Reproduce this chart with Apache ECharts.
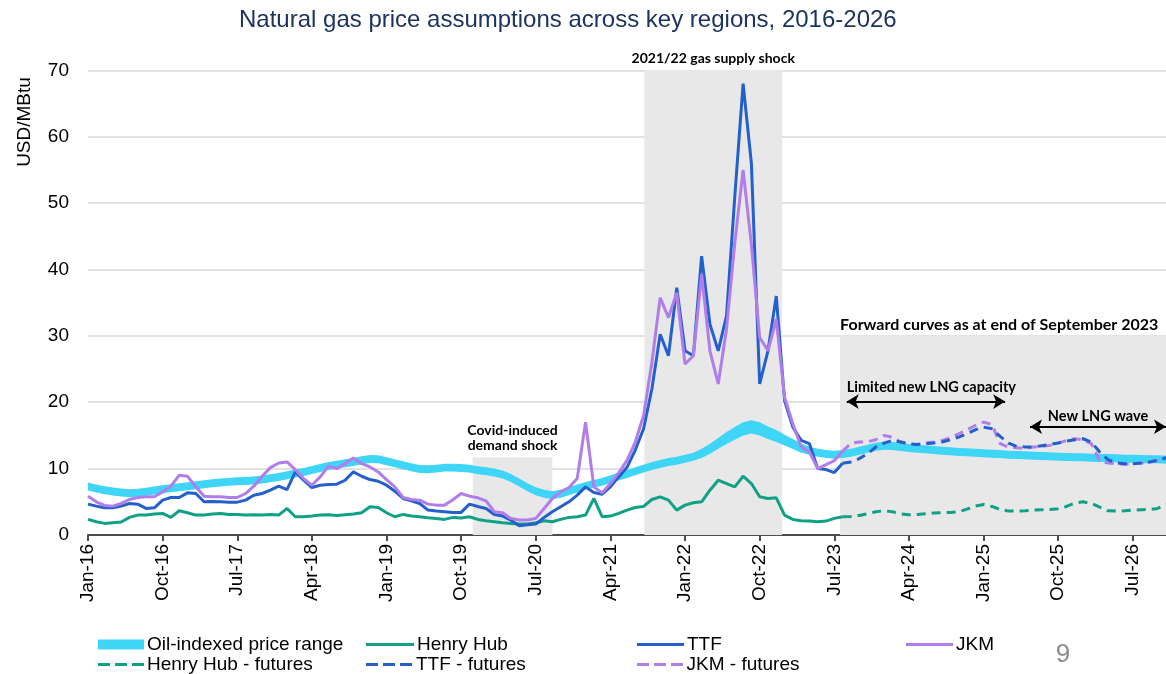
<!DOCTYPE html>
<html>
<head>
<meta charset="utf-8">
<script src="https://cdn.jsdelivr.net/npm/echarts@6/dist/echarts.min.js"></script>
<style>
html,body{margin:0;padding:0;background:#fff;}
#chart{width:1166px;height:674px;}
</style>
</head>
<body>
<div id="chart"></div>
<script>
// ---- Tick labels (monthly categories Jan-16 .. Nov-26) ----
const monthNames = ['Jan','Feb','Mar','Apr','May','Jun','Jul','Aug','Sep','Oct','Nov','Dec'];
const yearLabels = ['16','17','18','19','20','21','22','23','24','25','26'];
const monthCount = 131;
const categories = [];
for (let i = 0; i < monthCount; i++) {
  categories.push(monthNames[i % 12] + '-' + yearLabels[Math.floor(i / 12)]);
}

// ---- Oil-indexed price range (lower bound and band width), Jan-16 .. Nov-26 ----
const oilLow = [
 6.7,6.4,6.15,5.95,5.8,5.7,5.75,5.9,6.1,6.3,
 6.45,6.6,6.75,6.9,7.05,7.2,7.3,7.4,7.5,7.55,
 7.6,7.75,7.95,8.15,8.4,8.65,8.9,9.2,9.5,9.8,
 10.0,10.2,10.4,10.65,10.85,10.8,10.5,10.2,9.9,9.6,
 9.35,9.3,9.4,9.55,9.55,9.5,9.4,9.15,9.0,8.8,
 8.5,8.0,7.3,6.6,6.0,5.6,5.4,5.6,6.0,6.4,
 6.8,7.1,7.4,7.8,8.2,8.6,9.0,9.4,9.8,10.1,
 10.4,10.6,10.9,11.2,11.6,12.25,13.0,13.7,14.35,15.0,
 15.3,15.0,14.45,14.0,13.5,12.95,12.4,12.1,11.8,11.6,
 11.5,11.6,11.8,12.1,12.4,12.7,12.85,12.8,12.65,12.5,
 12.4,12.3,12.2,12.1,12.0,11.9,11.85,11.8,11.7,11.65,
 11.6,11.5,11.45,11.4,11.35,11.3,11.25,11.2,11.15,11.1,
 11.1,11.05,11.0,11.0,10.95,10.9,10.9,10.85,10.8,10.8,
 10.75
];
const oilSpread = [
 1.2,1.2,1.2,1.2,1.2,1.2,1.2,1.2,1.2,1.2,
 1.2,1.2,1.2,1.2,1.2,1.2,1.2,1.2,1.2,1.2,
 1.2,1.2,1.2,1.2,1.2,1.2,1.2,1.2,1.2,1.2,
 1.2,1.2,1.2,1.2,1.2,1.2,1.2,1.2,1.2,1.2,
 1.2,1.2,1.2,1.2,1.2,1.2,1.2,1.2,1.2,1.2,
 1.2,1.2,1.2,1.2,1.2,1.2,1.2,1.2,1.2,1.2,
 1.2,1.2,1.2,1.2,1.2,1.2,1.2,1.2,1.2,1.2,
 1.2,1.2,1.2,1.2,1.4,1.5,1.6,1.8,1.9,2.0,
 2.0,2.0,1.9,1.8,1.6,1.5,1.4,1.2,1.2,1.2,
 1.2,1.2,1.2,1.2,1.2,1.2,1.2,1.2,1.2,1.2,
 1.2,1.2,1.2,1.2,1.2,1.2,1.2,1.2,1.2,1.2,
 1.2,1.2,1.2,1.2,1.2,1.2,1.2,1.2,1.2,1.2,
 1.2,1.2,1.2,1.2,1.2,1.2,1.2,1.2,1.2,1.2,
 1.2
];

// ---- Historical prices, Jan-16 .. Aug-23 ----
const henryHub = [
 2.35,2.0,1.75,1.85,1.95,2.65,3.0,3.0,3.15,3.25,
 2.65,3.65,3.35,3.0,3.0,3.15,3.25,3.1,3.1,3.0,
 3.05,3.0,3.1,3.0,4.0,2.75,2.75,2.85,3.0,3.05,
 2.95,3.05,3.15,3.35,4.25,4.15,3.35,2.75,3.1,2.85,
 2.75,2.6,2.5,2.35,2.65,2.55,2.75,2.35,2.15,2.0,
 1.85,1.75,1.65,1.65,1.85,2.15,2.0,2.35,2.65,2.75,
 3.0,5.5,2.75,2.85,3.25,3.75,4.15,4.3,5.35,5.75,
 5.25,3.75,4.5,4.85,5.0,6.75,8.25,7.75,7.25,8.85,
 7.75,5.75,5.5,5.6,3.0,2.35,2.15,2.1,2.0,2.1,
 2.5,2.75
];
const ttf = [
 4.65,4.35,4.1,4.1,4.35,4.75,4.65,4.0,4.1,5.25,
 5.65,5.65,6.35,6.25,5.0,5.05,5.0,4.95,4.95,5.25,
 6.0,6.25,6.75,7.35,6.85,9.5,8.25,7.15,7.5,7.6,
 7.65,8.25,9.5,8.85,8.35,8.1,7.5,6.6,5.5,5.15,
 4.75,3.75,3.6,3.5,3.4,3.4,4.65,4.3,4.0,3.1,
 2.85,2.25,1.4,1.55,1.65,2.65,3.5,4.25,5.0,6.0,
 7.25,6.4,6.15,7.25,8.75,10.2,12.8,16.0,22.0,30.25,
 27.0,37.25,27.75,27.0,42.0,31.75,27.75,33.0,51.0,68.0,
 56.0,22.75,27.75,36.0,20.25,16.25,14.25,13.75,10.0,9.85,
 9.4,10.8
];
const jkm = [
 5.85,5.0,4.45,4.35,4.75,5.35,5.65,5.75,5.75,6.5,
 7.35,9.0,8.85,7.25,5.85,5.75,5.75,5.65,5.65,6.25,
 7.35,8.85,10.15,10.85,11.0,9.85,8.5,7.5,8.75,10.35,
 10.0,10.75,11.6,10.75,10.25,9.5,8.35,7.25,5.65,5.35,
 5.25,4.65,4.5,4.5,5.3,6.25,5.85,5.6,5.15,3.5,
 3.35,2.5,2.25,2.25,2.5,4.0,5.5,6.5,7.15,8.5,
 17.0,7.25,6.35,7.75,9.35,11.25,14.0,18.0,26.0,35.75,
 32.75,36.5,25.75,27.0,39.25,27.75,22.75,31.0,44.0,55.0,
 43.75,29.75,27.75,32.5,20.75,16.75,13.25,12.5,10.0,10.6,
 11.2,12.6
];

// ---- Futures (forward curves at end Sep-2023), Aug-23 .. Nov-26 ----
const futuresStart = 91;
const henryHubFutures = [
 2.75,2.8,2.95,3.2,3.5,3.65,3.5,3.2,3.05,3.1,
 3.2,3.3,3.35,3.4,3.5,3.9,4.35,4.6,4.3,3.85,
 3.6,3.6,3.65,3.75,3.8,3.85,3.95,4.3,4.8,5.0,
 4.75,4.2,3.65,3.6,3.65,3.75,3.8,3.85,4.0,4.6
];
const ttfFutures = [
 10.8,11.0,11.5,12.25,13.25,13.85,14.25,14.0,13.75,13.65,
 13.75,13.85,14.0,14.35,14.75,15.25,15.85,16.25,16.0,14.85,
 13.85,13.35,13.25,13.25,13.45,13.65,13.85,14.15,14.35,14.5,
 14.0,12.5,11.35,10.85,10.75,10.75,10.85,11.0,11.25,11.65
];
const jkmFutures = [
 12.6,13.85,14.0,14.05,14.35,15.0,14.75,14.0,13.65,13.65,
 13.85,14.0,14.25,14.65,15.25,15.85,16.5,17.0,16.65,13.75,
 13.25,13.15,13.0,13.25,13.35,13.5,13.85,14.25,14.5,14.35,
 13.75,11.15,10.85,10.75,10.65,10.75,10.85,11.0,11.25,11.5
];

// ---- Annotations (in month-index / USD units) ----
const shadedPeriods = [
  { label: 'Covid-induced\ndemand shock', from: 46.4, to: 56.0, top: 11.7, pos: 'top', size: 14 },
  { label: '2021/22 gas supply shock', from: 67.1, to: 83.7, top: 70, pos: 'top', size: 14 },
  { label: 'Forward curves as at end of September 2023', from: 90.7, to: 130, top: 30, pos: 'left', size: 16 }
];
const arrows = [
  { label: 'Limited new LNG capacity', from: 91.5, to: 110.6, y: 20.1, pos: 'insideStartTop', size: 14.5 },
  { label: 'New LNG wave', from: 113.6, to: 130, y: 16.3, pos: 'insideMiddleTop', size: 14.5 }
];

// ---- Styling ----
const C = {
  oil: '#3fd5f6', hh: '#10a086', ttf: '#2360cc', jkm: '#b17deb',
  shade: '#e8e8e8', title: '#1d3461'
};
const baseFont = "'Liberation Sans', Arial, sans-serif";
const annoFont = "Lato, 'Open Sans', sans-serif";
const solidIcon = 'rect';
const dashIcon = 'path://M0,0H12V3H0Z M17,0H29V3H17Z M34,0H46V3H34Z';

function pad(arr, start) {
  const out = [];
  for (let i = 0; i < start; i++) out.push(null);
  return out.concat(arr);
}

const chart = echarts.init(document.getElementById('chart'), null, { renderer: 'canvas' });

const lineBase = { type: 'line', symbol: 'none', smooth: false, connectNulls: false, silent: true };

const row1 = 635, row2 = 655;

const option = {
  animation: false,
  backgroundColor: '#ffffff',
  title: {
    text: 'Natural gas price assumptions across key regions, 2016-2026',
    left: 234, top: 3,
    textStyle: { fontFamily: baseFont, fontSize: 24, fontWeight: 'normal', color: C.title }
  },
  grid: { left: 88, right: 0, top: 70.3, bottom: 139, containLabel: false },
  xAxis: [
    {
      type: 'category', data: categories, boundaryGap: false,
      axisLine: { lineStyle: { color: '#4d4d4d', width: 2 } },
      axisTick: { show: true, interval: 8, length: 6, lineStyle: { color: '#4d4d4d', width: 2 } },
      axisLabel: { interval: 8, rotate: 90, margin: 9, fontFamily: baseFont, fontSize: 19, color: '#000' },
      splitLine: { show: false }
    },
    { type: 'value', min: 0, max: 130, show: false }
  ],
  yAxis: {
    type: 'value', min: 0, max: 70, interval: 10,
    axisLine: { show: false }, axisTick: { show: false },
    axisLabel: { fontFamily: baseFont, fontSize: 19, color: '#000', margin: 19 },
    splitLine: { lineStyle: { color: '#d9d9d9', width: 1.5 } }
  },
  legend: [
    { data: ['Oil-indexed price range'], left: 98, top: row1, icon: 'rect', itemWidth: 46, itemHeight: 10 },
    { data: ['Henry Hub'], left: 366, top: row1, icon: solidIcon, itemWidth: 48, itemHeight: 3 },
    { data: ['TTF'], left: 637, top: row1, icon: solidIcon, itemWidth: 47, itemHeight: 3 },
    { data: ['JKM'], left: 906, top: row1, icon: solidIcon, itemWidth: 47, itemHeight: 3 },
    { data: ['Henry Hub - futures'], left: 98, top: row2, icon: dashIcon, itemWidth: 46, itemHeight: 3 },
    { data: ['TTF - futures'], left: 366, top: row2, icon: dashIcon, itemWidth: 48, itemHeight: 3 },
    { data: ['JKM - futures'], left: 637, top: row2, icon: dashIcon, itemWidth: 47, itemHeight: 3 }
  ].map(l => Object.assign({ orient: 'horizontal', padding: 0, selectedMode: false,
    textStyle: { fontFamily: baseFont, fontSize: 19, color: '#000', padding: [0, 0, 0, -2] } }, l)),
  graphic: [
    { type: 'text', x: 25, y: 122, rotation: Math.PI / 2,
      style: { text: 'USD/MBtu', font: "19px 'Liberation Sans', Arial, sans-serif", fill: '#000',
               textAlign: 'center', textVerticalAlign: 'middle' } },
    { type: 'text', x: 1063, y: 655,
      style: { text: '9', font: "26px 'Liberation Sans', Arial, sans-serif", fill: '#8c8c8c',
               textAlign: 'center', textVerticalAlign: 'middle' } }
  ],
  series: [
    Object.assign({}, lineBase, {
      name: 'annotations', xAxisIndex: 1, data: [],
      lineStyle: { opacity: 0 },
      markArea: {
        silent: true,
        itemStyle: { color: C.shade },
        data: shadedPeriods.map(p => [
          { xAxis: p.from, yAxis: 0, name: p.label,
            label: p.pos === 'top'
              ? { show: true, position: 'top', distance: 4, fontFamily: annoFont, fontWeight: 'bold', fontSize: p.size, color: '#000', lineHeight: 15 }
              : { show: true, position: [0, -19], fontFamily: annoFont, fontWeight: 'bold', fontSize: p.size, color: '#000' } },
          { xAxis: p.to, yAxis: p.top }
        ])
      },
      markLine: {
        silent: true,
        symbol: ['arrow', 'arrow'],
        symbolSize: [11, 12],
        lineStyle: { color: '#000', width: 2, type: 'solid' },
        data: arrows.map(a => [
          { coord: [a.from, a.y], name: a.label,
            label: { show: true, formatter: '{b}', position: a.pos, distance: a.pos === 'insideStartTop' ? [0, 7] : 3,
                     fontFamily: annoFont, fontWeight: 'bold', fontSize: a.size, color: '#000' } },
          { coord: [a.to, a.y] }
        ])
      }
    }),
    Object.assign({}, lineBase, {
      name: 'oilLow', data: oilLow, stack: 'oil',
      lineStyle: { opacity: 0, width: 0 }, itemStyle: { color: C.oil }
    }),
    Object.assign({}, lineBase, {
      name: 'Oil-indexed price range', data: oilSpread, stack: 'oil',
      lineStyle: { width: 0, opacity: 0 }, itemStyle: { color: C.oil },
      areaStyle: { color: C.oil, opacity: 1 }
    }),
    Object.assign({}, lineBase, {
      name: 'Henry Hub', data: henryHub, itemStyle: { color: C.hh },
      lineStyle: { color: C.hh, width: 3 }
    }),
    Object.assign({}, lineBase, {
      name: 'Henry Hub - futures', data: pad(henryHubFutures, futuresStart), itemStyle: { color: C.hh },
      lineStyle: { color: C.hh, width: 3, type: [9, 6] }
    }),
    Object.assign({}, lineBase, {
      name: 'TTF', data: ttf, itemStyle: { color: C.ttf },
      lineStyle: { color: C.ttf, width: 3 }
    }),
    Object.assign({}, lineBase, {
      name: 'JKM', data: jkm, itemStyle: { color: C.jkm },
      lineStyle: { color: C.jkm, width: 3 }
    }),
    Object.assign({}, lineBase, {
      name: 'JKM - futures', data: pad(jkmFutures, futuresStart), itemStyle: { color: C.jkm },
      lineStyle: { color: C.jkm, width: 3, type: [9, 6] }
    }),
    Object.assign({}, lineBase, {
      name: 'TTF - futures', data: pad(ttfFutures, futuresStart), itemStyle: { color: C.ttf },
      lineStyle: { color: C.ttf, width: 3, type: [9, 6] }
    })
  ]
};
chart.setOption(option);
</script>
</body>
</html>
